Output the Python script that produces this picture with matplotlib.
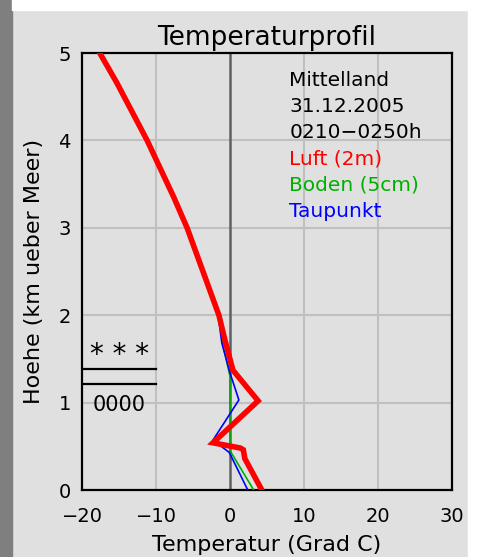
import matplotlib
matplotlib.use("Agg")
import matplotlib.pyplot as plt
from matplotlib.patches import Rectangle

# profile data (temperature in deg C, height in km)
luft_h = [5.0, 4.66, 4.0, 3.35, 3.0, 2.0, 1.72, 1.37, 1.02, 0.54, 0.48, 0.46, 0.36, 0.0]
luft_t = [-17.6, -15.3, -11.2, -7.6, -5.8, -1.5, -0.7, 0.4, 3.8, -2.3, 1.4, 1.8, 2.0, 4.3]

boden_h = [5.0, 4.66, 4.0, 3.35, 3.0, 2.0, 1.68, 1.3, 0.45, 0.0]
boden_t = [-17.6, -15.3, -11.2, -7.6, -5.8, -1.5, -1.0, 0.0, 0.0, 3.2]

tau_h = [5.0, 4.66, 4.0, 3.35, 3.0, 2.0, 1.68, 1.34, 1.03, 0.61, 0.57, 0.43, 0.0]
tau_t = [-17.6, -15.3, -11.2, -7.6, -5.8, -1.6, -1.1, 0.0, 1.2, -2.0, -2.3, -0.1, 2.4]

xticks = [-20, -10, 0, 10, 20, 30]
xticklabels = ["\u221220", "\u221210", "0", "10", "20", "30"]
yticks = [0, 1, 2, 3, 4, 5]
info_lines = ["Mittelland", "31.12.2005", "0210\u22120250h"]
legend_names = ["Luft (2m)", "Boden (5cm)", "Taupunkt"]
legend_colors = ["#ff0000", "#00b000", "#0000ff"]
snow_levels = [1.21, 1.38]

bg = "#e0e0e0"
fig = plt.figure(figsize=(4.78, 5.57), dpi=100, facecolor=bg)

# white and dark borders of the original graphic
fig.patches.append(Rectangle((0, 0), 12 / 478, 1, transform=fig.transFigure,
                             color="#7f7f7f", zorder=-10))
fig.patches.append(Rectangle((12 / 478, 1 - 10 / 557), 1, 10 / 557,
                             transform=fig.transFigure, color="white", zorder=-10))
fig.patches.append(Rectangle((468 / 478, 0), 10 / 478, 1 - 10 / 557,
                             transform=fig.transFigure, color="white", zorder=-10))

ax = fig.add_axes([82 / 478, 67 / 557, 370 / 478, 437 / 557])
ax.set_facecolor(bg)
ax.set_xlim(-20, 30)
ax.set_ylim(0, 5)

for xv in [-10, 10, 20]:
    ax.axvline(xv, color="#c0c0c0", lw=1.5, zorder=1)
for yv in [1, 2, 3, 4]:
    ax.axhline(yv, color="#c0c0c0", lw=1.5, zorder=1)
ax.axvline(0, color="#606060", lw=1.8, zorder=2)

ax.plot(boden_t, boden_h, color="#00b000", lw=1.2, zorder=3)
ax.plot(tau_t, tau_h, color="#0000ff", lw=1.2, zorder=4)
ax.plot(luft_t, luft_h, color="#ff0000", lw=4, zorder=5, solid_joinstyle="miter")

for lev in snow_levels:
    ax.plot([-20, -10], [lev, lev], color="black", lw=1.6, zorder=6)
ax.text(-15, 1.55, "* * *", ha="center", va="center", fontsize=20)
ax.text(-15, 0.97, "0000", ha="center", va="center", fontsize=15)

ax.set_xticks(xticks)
ax.set_xticklabels(xticklabels)
ax.set_yticks(yticks)
ax.tick_params(length=0, labelsize=14)
ax.tick_params(axis="x", pad=12)
ax.tick_params(axis="y", pad=8)
for s in ax.spines.values():
    s.set_linewidth(1.6)

ax.set_xlabel("Temperatur (Grad C)", fontsize=16, labelpad=7)
ax.set_ylabel("Hoehe (km ueber Meer)", fontsize=16, labelpad=10)
ax.set_title("Temperaturprofil", fontsize=19, pad=6)

y0 = 4.69
for i, txt in enumerate(info_lines):
    ax.text(8.0, y0 - i * 0.30, txt, fontsize=14.5, va="center", ha="left", zorder=7)
for i, (txt, c) in enumerate(zip(legend_names, legend_colors)):
    ax.text(8.0, y0 - (i + 3) * 0.30, txt, fontsize=14.5, color=c,
            va="center", ha="left", zorder=7)

fig.savefig("out.png", dpi=100, facecolor=bg)
